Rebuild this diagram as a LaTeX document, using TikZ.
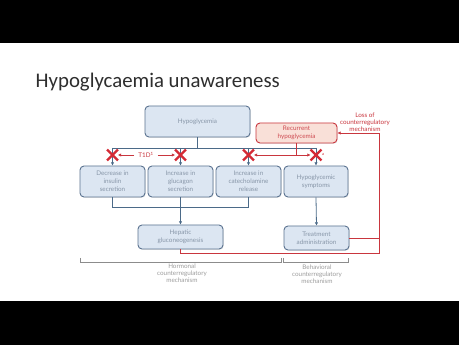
\documentclass[tikz,border=0pt]{standalone}
\usepackage{fontspec}
\setmainfont{Lato}
\newfontfamily\titlefont{Carlito}
\usetikzlibrary{arrows.meta,shapes.misc,shadows}
\definecolor{boxfill}{HTML}{DCE6F2}
\definecolor{boxdraw}{HTML}{5B7390}
\definecolor{boxtext}{HTML}{8796A8}
\definecolor{conn}{HTML}{4B6A88}
\definecolor{redl}{HTML}{C9363E}
\definecolor{pinkfill}{HTML}{F9E0D8}
\definecolor{xred}{HTML}{D42A35}
\definecolor{brk}{HTML}{8C8C8C}
\definecolor{titlec}{HTML}{2E2E2E}
\tikzset{
  box/.style={draw=boxdraw, fill=boxfill, rounded corners=4pt, line width=0.9pt,
    inner sep=0pt, align=center, text=boxtext,
    font=\fontsize{6.3}{8}\selectfont,
    drop shadow={opacity=0.18, shadow xshift=0.8pt, shadow yshift=-0.8pt}},
  redbox/.style={box, draw=redl, fill=pinkfill, text=redl!90!white},
  connline/.style={draw=conn, line width=0.8pt},
  connarrow/.style={connline, -{Latex[length=3.2pt,width=3.4pt]}},
  redline/.style={draw=redl, line width=0.8pt},
  redarrow/.style={redline, -{Latex[length=3.2pt,width=3.4pt]}},
  xmark/.style={cross out, draw=xred, line width=2.4pt, minimum size=8.5pt, inner sep=0pt},
  brkline/.style={draw=brk, line width=0.5pt},
  graytext/.style={text=brk!85!white, align=center, font=\fontsize{6.3}{7.2}\selectfont},
}
\begin{document}
\begin{tikzpicture}[x=1pt,y=-1pt]
\useasboundingbox (0,0) rectangle (459,345);
\fill[black] (0,0) rectangle (459,43);
\fill[white] (0,43) rectangle (459,301);
\fill[black] (0,301) rectangle (459,345);

\node[anchor=base west, inner sep=0pt, text=titlec, font=\titlefont\fontsize{20.8}{24}\selectfont] (title) at (35.5,88) {Hypoglycaemia unawareness};

% boxes
\node[box, minimum width=105pt, minimum height=31pt] (hypo) at (197.5,121.5) {Hypoglycemia};
\node[redbox, minimum width=81pt, minimum height=20pt] (recur) at (296.5,133) {Recurrent\\hypoglycemia};
\node[box, minimum width=65pt, minimum height=31pt] (ins) at (112.5,181.5) {Decrease in\\insulin\\secretion};
\node[box, minimum width=65pt, minimum height=31pt] (glu) at (180.5,181.5) {Increase in\\glucagon\\secretion};
\node[box, minimum width=65pt, minimum height=31pt] (cat) at (248.5,181.5) {Increase in\\catecholamine\\release};
\node[box, minimum width=64pt, minimum height=31pt] (sym) at (316,181.5) {Hypoglycemic\\symptoms};
\node[box, minimum width=85pt, minimum height=24pt] (hep) at (180.5,237) {Hepatic\\gluconeogenesis};
\node[box, minimum width=65pt, minimum height=24pt] (treat) at (316.5,238) {Treatment\\administration};

% coordinates
\coordinate (bus) at (0,148);
\coordinate (xrow) at (0,155);
\coordinate (jrow) at (0,207);
\coordinate (loopbr) at (379,253);
\coordinate (looptr) at (379,133);

% blue bus from hypoglycemia
\draw[connline] (hypo.south) -- (hypo.south |- bus);
\draw[connline] (ins.north |- bus) -- (sym.north |- bus);
\draw[connarrow] (ins.north |- bus) -- (ins.north);
\draw[connarrow] (glu.north |- bus) -- (glu.north);
\draw[connarrow] (cat.north |- bus) -- (cat.north);
\draw[connarrow] (sym.north |- bus) -- (sym.north);

% X marks
\node[xmark] (x1) at (ins.north |- xrow) {};
\node[xmark] (x2) at (glu.north |- xrow) {};
\node[xmark] (x3) at (cat.north |- xrow) {};
\node[xmark] (x4) at (sym.north |- xrow) {};
\node[text=xred, font=\fontsize{4}{4}\selectfont, inner sep=0pt, anchor=south west] (sup) at ([xshift=0.5pt,yshift=-1pt]x4.east) {a};

% T1D
\node[text=redl, font=\fontsize{6.3}{7}\selectfont, inner sep=1pt] (t1d) at (146,155) {T1D\textsuperscript{1}};
\draw[redarrow] ([xshift=-3pt]t1d.west) -- (x1.east);
\draw[redarrow] ([xshift=3pt]t1d.east) -- (x2.west);

% recurrent hypoglycemia branches
\draw[redline] (recur.south) -- (recur.south |- xrow) coordinate (rj);
\draw[redarrow] (rj) -- (x3.east);
\draw[redarrow] (rj) -- (x4.west);

% hormonal convergence
\draw[connline] (ins.south) -- (ins.south |- jrow) -- (cat.south |- jrow) -- (cat.south);
\draw[connarrow] (glu.south) -- (hep.north);
\draw[connarrow] (sym.south) -- (treat.north);

% red feedback loop
\draw[redarrow] (hep.south) |- (loopbr) -- (looptr) -- (recur.east);
\draw[redline] (treat.east) -- (treat.east -| loopbr);

\node[text=redl, align=center, font=\fontsize{6.3}{7.2}\selectfont] (loss) at (365,122) {Loss of\\counterregulatory\\mechanism};

% brackets
\draw[brkline] (80,258) -- (80,262) -- (281,262) -- (281,258);
\draw[brkline] (283,258) -- (283,262) -- (348,262) -- (348,258);
\node[graytext] (horm) at (182,273.5) {Hormonal\\counterregulatory\\mechanism};
\node[graytext] (behav) at (317,274.5) {Behavioral\\counterregulatory\\mechanism};
\end{tikzpicture}
\end{document}
